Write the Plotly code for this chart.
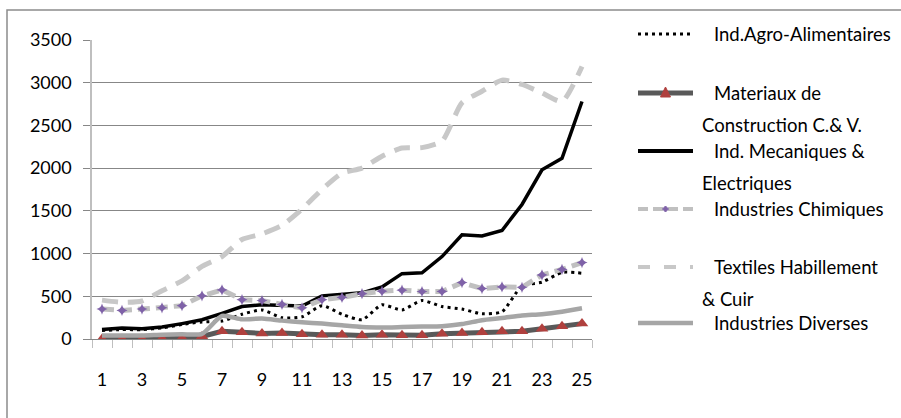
import plotly.graph_objects as go

categories = list(range(1, 26))
tick_labels = [str(c) for c in range(1, 26, 2)]
y_ticks = [0, 500, 1000, 1500, 2000, 2500, 3000, 3500]

agro = [100, 110, 110, 130, 170, 200, 210, 290, 340, 250, 260, 390, 290, 225, 400,
        340, 450, 380, 350, 295, 320, 620, 665, 780, 770]
materiaux = [0, 0, 0, 5, 10, 30, 90, 80, 65, 70, 55, 50, 50, 40, 50,
             45, 45, 60, 70, 80, 90, 90, 120, 150, 180]
mecaniques = [110, 130, 120, 140, 180, 225, 300, 380, 400, 395, 385, 505, 525, 540, 610,
              765, 775, 965, 1220, 1205, 1270, 1575, 1980, 2115, 2780]
chimiques = [350, 335, 350, 365, 390, 505, 575, 460, 450, 405, 365, 460, 487, 530, 560,
             572, 555, 557, 660, 590, 610, 605, 750, 815, 895]
textiles = [455, 430, 445, 565, 680, 850, 965, 1165, 1230, 1330, 1520, 1750, 1940, 2000, 2140,
            2235, 2240, 2315, 2765, 2900, 3030, 2980, 2880, 2780, 3190]
diverses = [40, 40, 40, 50, 55, 60, 270, 230, 240, 215, 195, 180, 160, 140, 135,
            140, 145, 150, 175, 220, 245, 275, 290, 320, 360]

names = ["Ind.Agro-Alimentaires", "Materiaux de Construction C.& V.",
         "Ind. Mecaniques & Electriques", "Industries Chimiques",
         "Textiles Habillement & Cuir", "Industries Diverses"]

FONT = "Lato"
W, H = 901, 418
L, R, T, B = 92, 309, 40, 79
PW, PH = W - L - R, H - T - B


def px(x):
    return (x - L) / PW


def py(y):
    return (H - B - y) / PH


fig = go.Figure()
fig.add_trace(go.Scatter(x=categories, y=agro, mode="lines", name=names[0],
                         line=dict(color="#000000", width=3, dash="3px,4px", shape="spline", smoothing=0.6)))
fig.add_trace(go.Scatter(x=categories, y=materiaux, mode="lines+markers", name=names[1],
                         line=dict(color="#595959", width=5),
                         marker=dict(symbol="triangle-up", size=11, color="#B0403E")))
fig.add_trace(go.Scatter(x=categories, y=mecaniques, mode="lines", name=names[2],
                         line=dict(color="#000000", width=3.5)))
fig.add_trace(go.Scatter(x=categories, y=chimiques, mode="lines+markers", name=names[3],
                         line=dict(color="#C0C0C0", width=5, dash="12px,6px"),
                         marker=dict(symbol="star-diamond", size=8, color="#7F62A8")))
fig.add_trace(go.Scatter(x=categories, y=textiles, mode="lines", name=names[4],
                         line=dict(color="#C8C8C8", width=5, dash="16px,10px", shape="spline", smoothing=0.6)))
fig.add_trace(go.Scatter(x=categories, y=diverses, mode="lines", name=names[5],
                         line=dict(color="#A6A6A6", width=4.5, shape="spline", smoothing=0.6)))

shapes = []
annotations = []

# chart frame
shapes.append(dict(type="rect", xref="paper", yref="paper",
                   x0=px(7), x1=px(960), y0=py(470), y1=py(10),
                   line=dict(color="#8C8C8C", width=1.5), fillcolor="rgba(0,0,0,0)", layer="below"))

# manual legend
leg_x0, leg_x1, txt_x, txt_x2 = 638, 693, 712, 700
rows = [
    (34, dict(color="#000000", width=3, dash="3px,4px"), ["Ind.Agro-Alimentaires"], None),
    (93, dict(color="#595959", width=5), ["Materiaux de", "Construction C.& V."], "tri"),
    (151, dict(color="#000000", width=4), ["Ind. Mecaniques &", "Electriques"], None),
    (209, dict(color="#C0C0C0", width=4, dash="10px,5px"), ["Industries Chimiques"], "dia"),
    (267, dict(color="#C8C8C8", width=4, dash="12px,14px"), ["Textiles Habillement", "& Cuir"], None),
    (323, dict(color="#A6A6A6", width=4.5), ["Industries Diverses"], None),
]
for yy, ln, texts, mk in rows:
    shapes.append(dict(type="line", xref="paper", yref="paper",
                       x0=px(leg_x0), x1=px(leg_x1), y0=py(yy), y1=py(yy), line=ln))
    cx = (leg_x0 + leg_x1) / 2
    if mk == "tri":
        path = "M {} {} L {} {} L {} {} Z".format(px(cx - 5), py(yy + 4), px(cx + 5), py(yy + 4),
                                                  px(cx), py(yy - 6))
        shapes.append(dict(type="path", xref="paper", yref="paper", path=path,
                           fillcolor="#B0403E", line=dict(color="#B0403E", width=1)))
    if mk == "dia":
        path = "M {} {} L {} {} L {} {} L {} {} Z".format(px(cx - 3), py(yy), px(cx), py(yy - 3),
                                                          px(cx + 3), py(yy), px(cx), py(yy + 3))
        shapes.append(dict(type="path", xref="paper", yref="paper", path=path,
                           fillcolor="#7F62A8", line=dict(color="#7F62A8", width=1)))
    annotations.append(dict(xref="paper", yref="paper", x=px(txt_x), y=py(yy), text=texts[0],
                            showarrow=False, xanchor="left", yanchor="middle",
                            font=dict(family=FONT, size=18.5, color="#000000")))
    if len(texts) > 1:
        annotations.append(dict(xref="paper", yref="paper", x=px(txt_x2), y=py(yy + 32), text=texts[1],
                                showarrow=False, xanchor="left", yanchor="middle",
                                font=dict(family=FONT, size=18.5, color="#000000")))

fig.update_layout(
    width=W, height=H,
    margin=dict(l=L, r=R, t=T, b=B, pad=0),
    paper_bgcolor="white", plot_bgcolor="white",
    showlegend=False,
    font=dict(family=FONT, size=18, color="#000000"),
    shapes=shapes, annotations=annotations,
)
fig.update_xaxes(
    range=[0.5, 25.5], tickmode="array",
    tickvals=list(range(1, 26, 2)), ticktext=tick_labels,
    ticks="", showgrid=False, zeroline=False,
    showline=True, linecolor="#878787", linewidth=1,
    ticklabelstandoff=24,
    tickfont=dict(family=FONT, size=18, color="#000000"),
    minor=dict(tick0=0.5, dtick=1, ticks="outside", ticklen=8, tickcolor="#BFBFBF", tickwidth=1, showgrid=False),
)
fig.update_yaxes(
    range=[0, 3500], tickmode="array", tickvals=y_ticks,
    ticks="outside", ticklen=7, tickcolor="#878787",
    showgrid=True, gridcolor="#878787", gridwidth=1,
    zeroline=False, showline=True, linecolor="#BFBFBF", linewidth=1.5,
    ticklabelstandoff=8,
    tickfont=dict(family=FONT, size=18, color="#000000"),
)

fig.write_html("out.html", config={"displayModeBar": False},
               post_script="document.body.style.margin='0';document.body.style.overflow='hidden';")
